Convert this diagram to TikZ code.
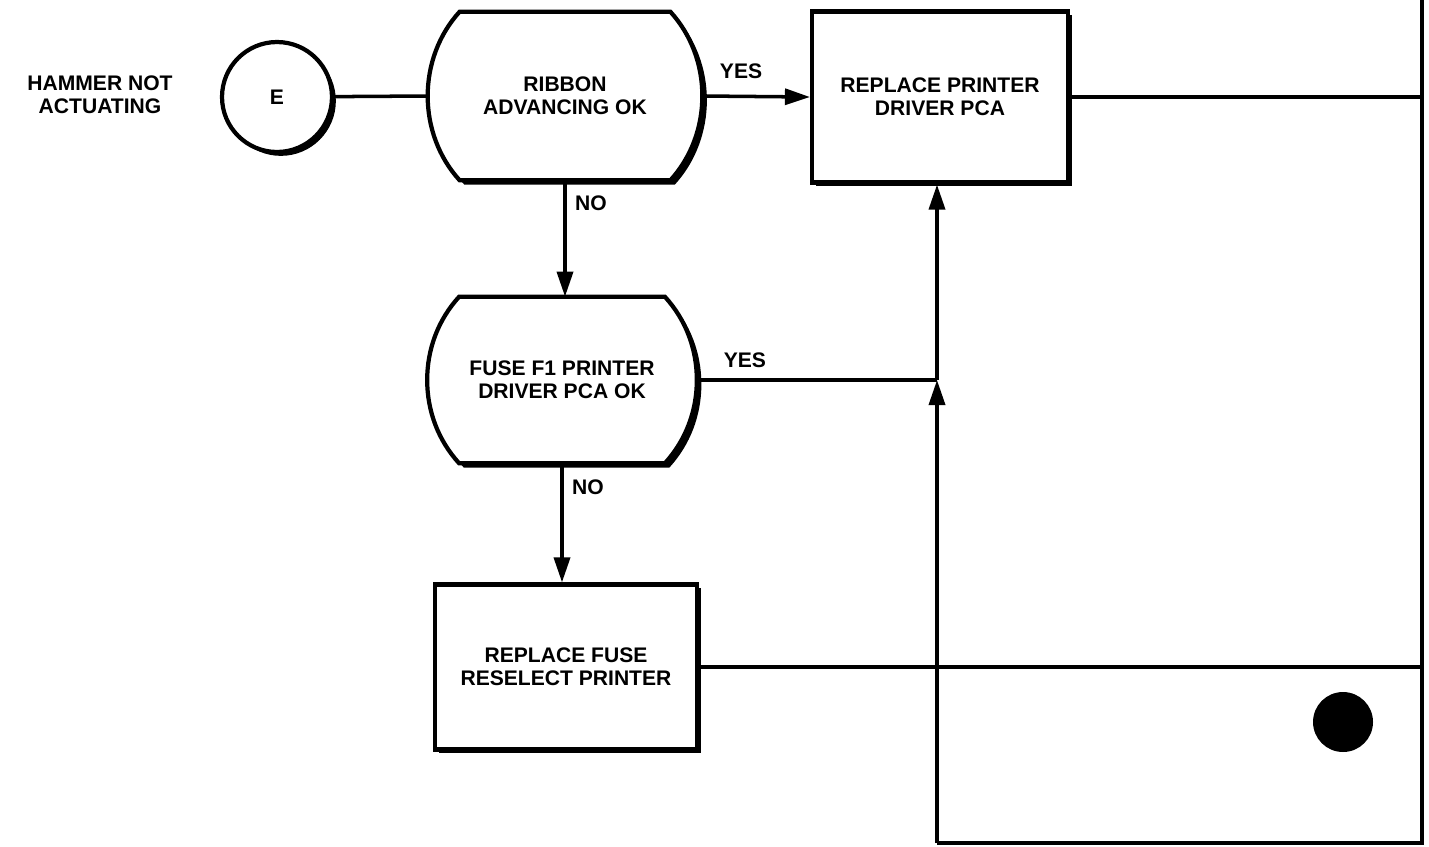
\documentclass[tikz,border=0pt]{standalone}
\usepackage{fontspec}
\setmainfont{Liberation Sans}
\usetikzlibrary{arrows.meta, calc, positioning, shadows, backgrounds}

\tikzset{
  every node/.style={font=\fontsize{12}{13}\selectfont\bfseries, align=center},
  wire/.style={line width=2pt},
  flow/.style={wire, -{Triangle[length=0.5cm, width=0.32cm]}},
  heavy/.style={draw, line width=2.4pt, fill=white,
    drop shadow={shadow xshift=2.2pt, shadow yshift=-2.2pt, fill=black, opacity=1}},
  stepbox/.style={heavy, rectangle},
  connector/.style={heavy, circle, minimum size=2.2cm},
  query/.style={rectangle, inner sep=0pt},
}

% barrel shaped decision outline round a named node
\newcommand{\barrelpath}[1]{($(#1.north west)+(32,0)$) -- ($(#1.north east)+(-32,0)$)
  .. controls ($(#1.north east)+(-11,23)$) and ($(#1.east)+(0,-31)$) .. (#1.east)
  .. controls ($(#1.east)+(0,31)$) and ($(#1.south east)+(-11,-23)$) .. ($(#1.south east)+(-32,0)$)
  -- ($(#1.south west)+(32,0)$)
  .. controls ($(#1.south west)+(11,-23)$) and ($(#1.west)+(0,31)$) .. (#1.west)
  .. controls ($(#1.west)+(0,-31)$) and ($(#1.north west)+(11,23)$) .. ($(#1.north west)+(32,0)$)
  -- cycle}
\newcommand{\drawbarrel}[1]{%
  \begin{scope}[on background layer]
    \fill[transform canvas={xshift=2.6pt, yshift=-2.4pt}] \barrelpath{#1};
    \filldraw[line width=2.4pt, fill=white] \barrelpath{#1};
  \end{scope}}

\begin{document}
\begin{tikzpicture}[x=0.02cm, y=-0.02cm]
\useasboundingbox (0,0) rectangle (1429,846);

% start
\node (title) at (100,95) {HAMMER NOT\\ACTUATING};
\node[connector] (E) at (277,97) {E};

% decisions
\node[query, minimum width=5.48cm, minimum height=3.36cm] (ribbon) at (565,96) {RIBBON\\ADVANCING OK};
\node[query, minimum width=5.38cm, minimum height=3.32cm] (fuse) at (562,380) {FUSE F1 PRINTER\\DRIVER PCA OK};
\drawbarrel{ribbon}
\drawbarrel{fuse}

% actions
\node[stepbox, minimum width=5.12cm, minimum height=3.42cm] (pca) at (940,97) {REPLACE PRINTER\\DRIVER PCA};
\node[stepbox, minimum width=5.24cm, minimum height=3.3cm] (refuse) at (566,667) {REPLACE FUSE\\RESELECT PRINTER};

\node[circle, fill, minimum size=1.2cm] (dot) at (1343,722) {};

\coordinate (jn) at (937,380);
\coordinate (foot) at (937,843);
\coordinate (corner) at (1422,843);
\coordinate (top) at (1422,0);

% connectors
\draw[wire] (E) -- (ribbon.west);
\draw[flow] (ribbon.east) -- node[pos=0.36, yshift=0.5cm] (yes1) {YES} (pca.west);
\draw[flow] (ribbon.south) -- node[pos=0.2, xshift=0.52cm] (no1) {NO} (ribbon.south |- fuse.north);
\draw[wire] (fuse.east) -- node[pos=0.2, yshift=0.4cm] (yes2) {YES} (jn);
\draw[flow] (fuse.south) -- node[pos=0.2, xshift=0.52cm] (no2) {NO} (fuse.south |- refuse.north);
\draw[flow] (foot) -- (jn);
\draw[flow] (jn) -- (jn |- pca.south);
\draw[wire] (foot) -- (corner) -- (top);
\draw[wire] (pca.east) -- (pca.east -| top);
\draw[wire] (refuse.east) -- (refuse.east -| top);
\end{tikzpicture}
\end{document}
